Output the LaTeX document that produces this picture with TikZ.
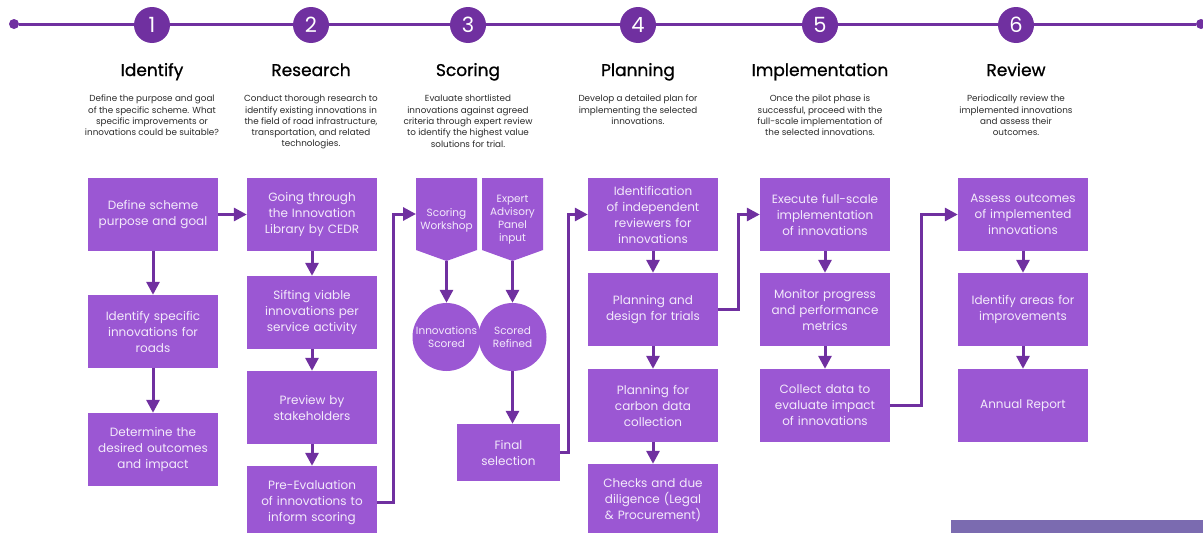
\documentclass[tikz,border=0pt]{standalone}
\usepackage{fontspec}
\setmainfont{Poppins}
\newfontfamily\headfont{Poppins}[FakeBold=0.9]
\usepackage{tikz}
\usetikzlibrary{shapes.geometric,arrows.meta}
\definecolor{boxpurple}{HTML}{9B57D3}
\definecolor{linepurple}{HTML}{7030A0}
\definecolor{boxtext}{HTML}{F3EAFB}
\definecolor{desctext}{HTML}{2A2A2A}
\definecolor{notepurple}{HTML}{7B6BB0}
\tikzset{
	procbox/.style={rectangle, fill=boxpurple, text=boxtext, minimum width=130pt, minimum height=73pt, text width=128pt, align=center, inner sep=0pt, font=\fontsize{12}{16}\selectfont},
	inputtext/.style={text=boxtext, inner sep=0pt, align=center, font=\fontsize{10.5}{13}\selectfont},
	resultdisc/.style={circle, fill=boxpurple, text=boxtext, minimum size=68pt, inner sep=0pt, align=center, font=\fontsize{10.5}{13}\selectfont},
	flow/.style={draw=linepurple, line width=3pt, -{Triangle[length=13pt,width=13pt]}},
	stepnum/.style={circle, fill=linepurple, text=white, minimum size=36pt, inner sep=0pt, font=\fontsize{21}{21}\selectfont},
	enddot/.style={circle, fill=linepurple, minimum size=10pt, inner sep=0pt},
	stagehead/.style={anchor=base, inner sep=0pt, font=\headfont\fontsize{17}{18}\selectfont},
	stagetext/.style={text=desctext, align=center, anchor=north, inner sep=0pt, font=\fontsize{8.8}{11.3}\selectfont},
}
\begin{document}
\begin{tikzpicture}[x=1pt, y=-1pt]
			\useasboundingbox (0, 0) rectangle (1203, 533);
			% Timeline:
			\node[enddot](L) at (14, 24){};
			\node[enddot](R) at (1201, 24){};
			\draw[linepurple, line width=3pt] (L) -- (R);
			\node[stepnum](S1) at (152, 25){1};
			\node[stepnum](S2) at (311, 25){2};
			\node[stepnum](S3) at (468, 25){3};
			\node[stepnum](S4) at (638, 25){4};
			\node[stepnum](S5) at (820, 25){5};
			\node[stepnum](S6) at (1016, 25){6};
			% Headings and descriptions:
			\node[stagehead](H1) at (152, 76){Identify};
			\node[stagehead](H2) at (311, 76){Research};
			\node[stagehead](H3) at (468, 76){Scoring};
			\node[stagehead](H4) at (638, 76){Planning};
			\node[stagehead](H5) at (820, 76){Implementation};
			\node[stagehead](H6) at (1016, 76){Review};
			\node[stagetext](T1) at (152, 95){Define the purpose and goal\\of the specific scheme. What\\specific improvements or\\innovations could be suitable?};
			\node[stagetext](T2) at (311, 95){Conduct thorough research to\\identify existing innovations in\\the field of road infrastructure,\\transportation, and related\\technologies.};
			\node[stagetext](T3) at (468, 95){Evaluate shortlisted\\innovations against agreed\\criteria through expert review\\to identify the highest value\\solutions for trial.};
			\node[stagetext](T4) at (638, 95){Develop a detailed plan for\\implementing the selected\\innovations.};
			\node[stagetext](T5) at (820, 95){Once the pilot phase is\\successful, proceed with the\\full-scale implementation of\\the selected innovations.};
			\node[stagetext](T6) at (1016, 95){Periodically review the\\implemented innovations\\and assess their\\outcomes.};
			% Boxes:
			\node[procbox](Def) at (153, 214.5){Define scheme\\purpose and goal};
			\node[procbox](Spec) at (153, 331.5){Identify specific\\innovations for\\roads};
			\node[procbox](Det) at (153, 449.5){Determine the\\desired outcomes\\and impact};
			\node[procbox](Lib) at (312, 214.5){Going through\\the Innovation\\Library by CEDR};
			\node[procbox](Sift) at (312, 312.5){Sifting viable\\innovations per\\service activity};
			\node[procbox](Prev) at (312, 407.5){Preview by\\stakeholders};
			\node[procbox](PreEv) at (312, 502.5){Pre-Evaluation\\of innovations to\\inform scoring};
			% pentagon inputs
			\fill[boxpurple] (416, 178) -- (477, 178) -- (477, 250) -- (446.5, 261) -- (416, 250) -- cycle;
			\fill[boxpurple] (482, 178) -- (543, 178) -- (543, 250) -- (512.5, 261) -- (482, 250) -- cycle;
			\coordinate (SWin) at (416, 214);
			\coordinate (SWtip) at (446.5, 261);
			\coordinate (EPtip) at (512.5, 261);
			\node[inputtext](SW) at (446.5, 220){Scoring\\Workshop};
			\node[inputtext](EP) at (512.5, 220){Expert\\Advisory\\Panel\\input};
			\node[resultdisc](IS) at (446.5, 337){Innovations\\Scored};
			\node[resultdisc](SR) at (512.5, 337){Scored\\Refined};
			\node[procbox, minimum width=103pt, minimum height=57pt, text width=100pt](Fin) at (508.5, 452.5){Final\\selection};
			\node[procbox](Rev) at (653, 214.5){Identification\\of independent\\reviewers for\\innovations};
			\node[procbox](Des) at (653, 309.5){Planning and\\design for trials};
			\node[procbox](Carb) at (653, 405.5){Planning for\\carbon data\\collection};
			\node[procbox](Chk) at (653, 500.5){Checks and due\\diligence (Legal\\\& Procurement)};
			\node[procbox](Exe) at (825, 214.5){Execute full-scale\\implementation\\of innovations};
			\node[procbox](Mon) at (825, 309.5){Monitor progress\\and performance\\metrics};
			\node[procbox](Col) at (825, 405.5){Collect data to\\evaluate impact\\of innovations};
			\node[procbox](Ass) at (1023, 214.5){Assess outcomes\\of implemented\\innovations};
			\node[procbox](Imp) at (1023, 309.5){Identify areas for\\improvements};
			\node[procbox](Ann) at (1023, 405.5){Annual Report};
			\fill[notepurple] (951, 520) rectangle (1203, 540);
			% Arrows:
			\draw[flow] (Def) -- (Lib);
			\draw[flow] (Def) -- (Spec);
			\draw[flow] (Spec) -- (Det);
			\draw[flow] (Lib) -- (Sift);
			\draw[flow] (Sift) -- (Prev);
			\draw[flow] (Prev) -- (PreEv);
			\draw[flow] (PreEv.east) -- ++(16, 0) |- (SWin);
			\draw[flow] (SWtip) -- (IS.north);
			\draw[flow] (EPtip) -- (SR.north);
			\draw[flow] (SR.south) -- (SR.south |- Fin.north);
			\draw[flow] (Fin.east) -- ++(8, 0) |- (Rev.west);
			\draw[flow] (Rev) -- (Des);
			\draw[flow] (Des) -- (Carb);
			\draw[flow] (Carb) -- (Chk);
			\draw[flow] (Des.east) -- ++(20, 0) |- (Exe.west);
			\draw[flow] (Exe) -- (Mon);
			\draw[flow] (Mon) -- (Col);
			\draw[flow] (Col.east) -- ++(31, 0) |- (Ass.west);
			\draw[flow] (Ass) -- (Imp);
			\draw[flow] (Imp) -- (Ann);
		\end{tikzpicture}
\end{document}
